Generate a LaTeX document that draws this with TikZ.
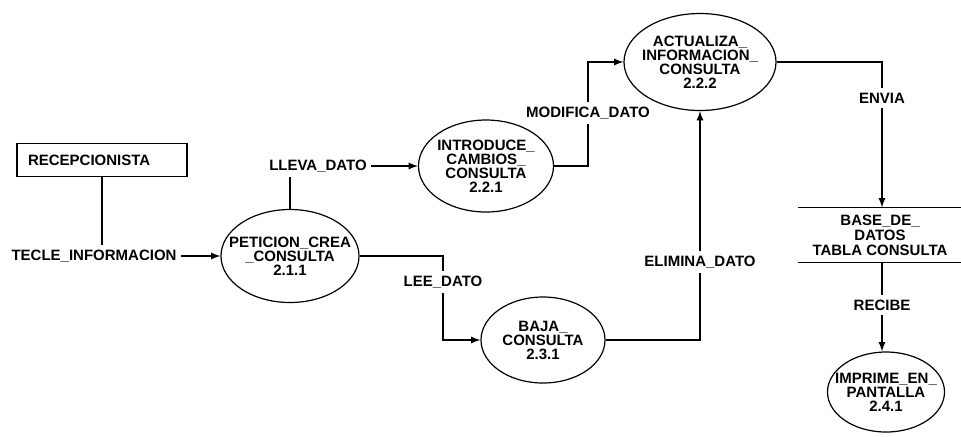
\documentclass[tikz,border=0pt]{standalone}
\usepackage{fontspec}
\setmainfont{Liberation Sans}
\usetikzlibrary{shapes.geometric}

\begin{document}
\begin{tikzpicture}[x=0.5pt,y=-0.5pt,line width=0.6pt,
    every node/.style={font=\fontsize{7.5}{7}\selectfont\bfseries,align=center},
    proc/.style={draw,ellipse,inner sep=0pt},
    lbl/.style={fill=white,inner sep=2pt}]
        \useasboundingbox (0,0) rectangle (961,436);
        \node[draw,minimum width=85pt,minimum height=16.5pt,text width=74pt,align=left,inner xsep=5.5pt] at (102,160) (recep) {RECEPCIONISTA};
        \node[proc,minimum width=69pt,minimum height=46.5pt,label={center:PETICION\_CREA\\\_CONSULTA\\2.1.1}] at (290,256) (pet) {};
        \node[proc,minimum width=67.5pt,minimum height=46pt,label={center:INTRODUCE\_\\CAMBIOS\_\\CONSULTA\\2.2.1}] at (486,166) (intro) {};
        \node[proc,minimum width=76pt,minimum height=48.5pt,label={center:ACTUALIZA\_\\INFORMACION\_\\CONSULTA\\2.2.2}] at (700,62) (act) {};
        \node[proc,minimum width=62pt,minimum height=43pt,label={center:BAJA\_\\CONSULTA\\2.3.1}] at (543,340) (baja) {};
        \node[proc,minimum width=58.5pt,minimum height=40pt,label={center:IMPRIME\_EN\_\\PANTALLA\\2.4.1}] at (886,392) (imp) {};
        \node[minimum width=81.5pt,minimum height=25pt,font=\fontsize{7.5}{7.5}\selectfont\bfseries] at (880,235) (base) {BASE\_DE\_\\DATOS\\TABLA CONSULTA};
        \draw (base.north west) -- (base.north east);
        \draw (base.south west) -- (base.south east);
        % flujos
        \node[lbl] at (94,256)  (tecle)  {TECLE\_INFORMACION};
        \node[lbl] at (318,166) (lleva)  {LLEVA\_DATO};
        \node[lbl] at (588,113) (modif)  {MODIFICA\_DATO};
        \node[lbl] at (443,282) (lee)    {LEE\_DATO};
        \node[lbl] at (700,262) (elim)   {ELIMINA\_DATO};
        \node[lbl] at (882,98)  (envia)  {ENVIA};
        \node[lbl] at (882,305) (recibe) {RECIBE};
        \draw (recep.south) -- (recep.south |- tecle.north);
        \draw[-latex] (tecle.east) -- (pet.west);
        \draw (pet.north) -- (pet.north |- lleva.south);
        \draw[-latex] (lleva.east) -- (intro.west);
        \draw (intro.east) -| (modif.south);
        \draw[-latex] (modif.north) |- (act.west);
        \draw (pet.east) -| (lee.north);
        \draw[-latex] (lee.south) |- (baja.west);
        \draw (baja.east) -| (elim.south);
        \draw[-latex] (elim.north) -- (act.south);
        \draw (act.east) -| (envia.north);
        \draw[-latex] (envia.south) -- (envia.south |- base.north);
        \draw (recibe.north |- base.south) -- (recibe.north);
        \draw[-latex] (recibe.south) -- (recibe.south |- imp.north);
      \end{tikzpicture}
\end{document}
